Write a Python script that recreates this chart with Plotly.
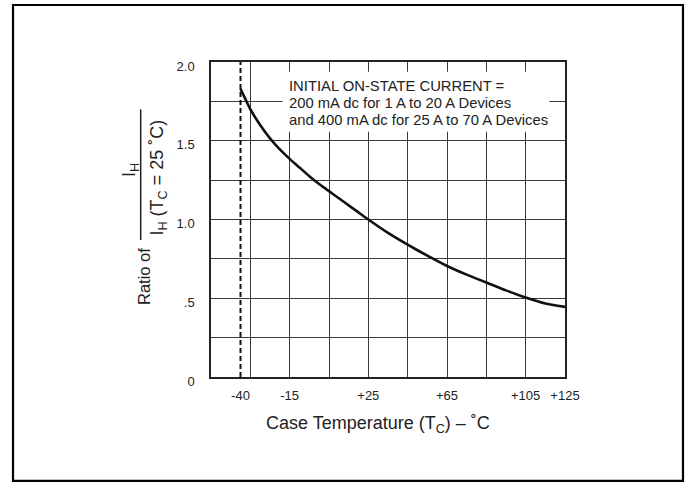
import plotly.graph_objects as go

# ---- data ----
temp_c = [-40, -35, -30, -25, -20, -15, -10, -5, 0, 5, 10, 15, 20, 25,
          35, 45, 55, 65, 75, 85, 95, 105, 115, 125]
ratio = [1.83, 1.70, 1.60, 1.515, 1.445, 1.385, 1.33, 1.275, 1.225, 1.18, 1.135, 1.09, 1.045, 1.00,
         0.915, 0.84, 0.77, 0.705, 0.65, 0.60, 0.55, 0.505, 0.467, 0.445]
limit_temp = -40
x_tick_vals = [-40, -15, 25, 65, 105, 125]
x_tick_text = ["-40", "-15", "+25", "+65", "+105", "+125"]
x_grid_vals = [-55, -35, -15, 5, 25, 45, 65, 85, 105, 125]
y_tick_vals = [0, 0.5, 1.0, 1.5, 2.0]
y_tick_text = ["0", ".5", "1.0", "1.5", "2.0"]
x_range = [-55, 125]
y_range = [0, 2.0]
note_lines = ["INITIAL ON-STATE CURRENT =",
              "200 mA dc for 1 A to 20 A Devices",
              "and 400 mA dc for 25 A to 70 A Devices"]

FONT = "Liberation Sans, Arial, sans-serif"
GRID = "#3a3a3a"
TXT = "#222"

fig = go.Figure()
fig.add_trace(go.Scatter(x=temp_c, y=ratio, mode="lines",
                         line=dict(color="#111", width=2.6, shape="spline", smoothing=0.5),
                         hoverinfo="skip", showlegend=False))
fig.add_trace(go.Scatter(x=[limit_temp, limit_temp], y=y_range, mode="lines",
                         line=dict(color="#111", width=2, dash="5px,3px"),
                         hoverinfo="skip", showlegend=False))
# invisible trace for the label axis
fig.add_trace(go.Scatter(x=x_range, y=y_range, xaxis="x2", mode="markers",
                         marker=dict(opacity=0), hoverinfo="skip", showlegend=False))

fig.update_layout(
    width=688, height=483,
    margin=dict(l=211, r=123, t=62, b=106),
    paper_bgcolor="white", plot_bgcolor="white",
    font=dict(family=FONT, color=TXT),
    xaxis=dict(range=x_range, tickmode="array", tickvals=x_grid_vals, showticklabels=False,
               ticks="", showgrid=True, gridcolor=GRID, gridwidth=1.3, zeroline=False,
               showline=True, linecolor="#222", linewidth=1.5, mirror=True),
    xaxis2=dict(range=x_range, overlaying="x", side="bottom", anchor="y", tickmode="array",
                tickvals=x_tick_vals, ticktext=x_tick_text, showgrid=False, zeroline=False,
                ticks="", tickfont=dict(size=13, color=TXT), ticklabelstandoff=9,
                showline=False),
    yaxis=dict(range=y_range, tickmode="array", tickvals=y_tick_vals, ticktext=y_tick_text,
               showgrid=True, gridcolor=GRID, gridwidth=1.3, zeroline=False, ticks="",
               tickfont=dict(size=13, color=TXT), ticklabelstandoff=12, ticklabelshift=4,
               minor=dict(dtick=0.25, tick0=0, showgrid=True, gridcolor=GRID, gridwidth=1.3,
                          ticks=""),
               showline=True, linecolor="#222", linewidth=1.5, mirror=True),
)

# note box (white background masking the grid) and its three lines
fig.add_shape(type="rect", xref="paper", yref="paper", x0=0.2025, x1=0.9556, y0=0.7787, y1=0.9692,
              line=dict(width=0), fillcolor="white", layer="above")
for txt, yy in zip(note_lines, [0.9248, 0.8708, 0.8159]):
    fig.add_annotation(xref="paper", yref="paper", x=0.2155, y=yy, xanchor="left", yanchor="middle",
                       text=txt, align="left", showarrow=False, font=dict(size=14.8, color=TXT))

# x axis title
fig.add_annotation(xref="paper", yref="paper", x=0.472, y=-0.152, xanchor="center", yanchor="middle",
                   text="Case Temperature (T<sub>C</sub>) – ˚C", showarrow=False,
                   font=dict(size=18, color=TXT))

# y axis title: "Ratio of" + fraction
fig.add_annotation(xref="paper", yref="paper", x=-0.1893, y=0.3206, textangle=-90,
                   xanchor="center", yanchor="middle",
                   text="Ratio of", showarrow=False, font=dict(size=16.5, color=TXT))
fig.add_annotation(xref="paper", yref="paper", x=-0.2288, y=0.657, textangle=-90,
                   xanchor="center", yanchor="middle",
                   text="I<sub>H</sub>", showarrow=False, font=dict(size=18, color=TXT))
fig.add_annotation(xref="paper", yref="paper", x=-0.1469, y=0.633, textangle=-90,
                   xanchor="center", yanchor="middle",
                   text="I<sub>H</sub> (T<sub>C</sub> = 25 ˚C)", showarrow=False,
                   font=dict(size=18, color=TXT))
fig.add_shape(type="line", xref="paper", yref="paper", x0=-0.1986, x1=-0.1986, y0=0.4349, y1=0.8498,
              line=dict(color=TXT, width=1.5))

# outer frame
fig.add_shape(type="rect", xref="paper", yref="paper", x0=-0.5593, x1=1.3333, y0=-0.330, y1=1.181,
              line=dict(color="black", width=2.2), fillcolor="rgba(0,0,0,0)")

fig.write_html("out.html", config={"displayModeBar": False},
               post_script="document.body.style.margin='0';")
